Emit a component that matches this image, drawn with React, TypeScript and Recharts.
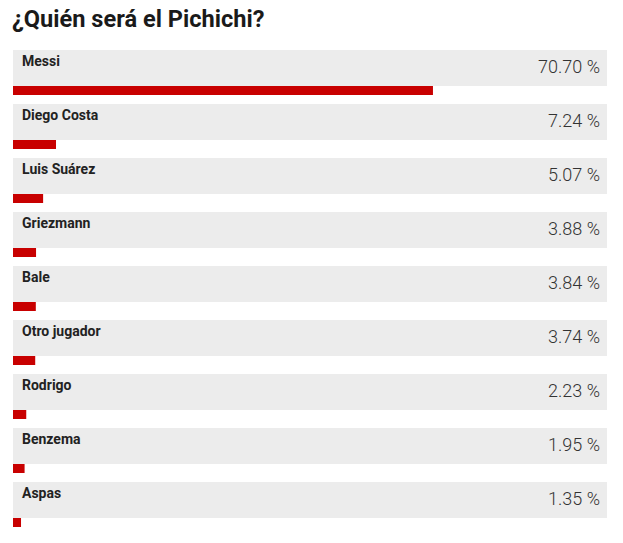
import { BarChart, Bar, XAxis, YAxis } from "recharts";

const players = ["Messi", "Diego Costa", "Luis Suárez", "Griezmann", "Bale", "Otro jugador", "Rodrigo", "Benzema", "Aspas"];
const votes = [70.7, 7.24, 5.07, 3.88, 3.84, 3.74, 2.23, 1.95, 1.35];
const title = "¿Quién será el Pichichi?";

const data = players.map((name, i) => ({ name, value: votes[i] }));

const fmt = (v: number) => `${v.toFixed(2)} %`;

function RowBackground(props: any) {
  const { x, y, width, index } = props;
  return (
    <g>
      <rect x={x} y={y} width={width} height={36} fill="#ececec" />
      <text x={x + 9} y={y + 16} fontFamily="Roboto" fontWeight={700} fontSize={14} fill="#222">
        {players[index]}
      </text>
      <text x={x + width - 7} y={y + 23} textAnchor="end" fontFamily="Roboto" fontWeight={300} fontSize={18} fill="#333">
        {fmt(votes[index])}
      </text>
    </g>
  );
}

function RedBar(props: any) {
  const { x, y, width } = props;
  return <rect x={x} y={y + 36} width={width} height={9} fill="#c80000" />;
}

export default function App() {
  return (
    <div style={{ position: "absolute", left: 0, top: 0, width: 623, height: 543, background: "#fff" }}>
      <svg width={623} height={40} style={{ position: "absolute", left: 0, top: 0 }}>
        <text x={12} y={27} fontFamily="Roboto" fontWeight={700} fontSize={23.6} fill="#1a1a1a">
          {title}
        </text>
      </svg>
      <BarChart
        width={623}
        height={543}
        data={data}
        layout="vertical"
        margin={{ top: 50, right: 16, left: 13, bottom: 7 }}
        barCategoryGap={0}
      >
        <XAxis type="number" domain={[0, 100]} hide />
        <YAxis type="category" dataKey="name" hide />
        <Bar
          dataKey="value"
          isAnimationActive={false}
          background={RowBackground}
          shape={RedBar}
        />
      </BarChart>
    </div>
  );
}
